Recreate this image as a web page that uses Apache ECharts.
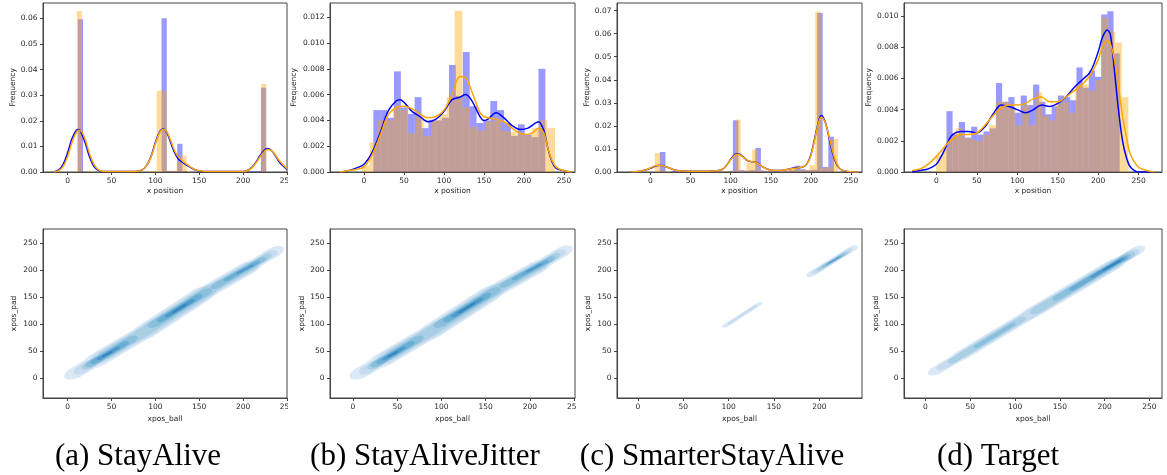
<!DOCTYPE html>
<html><head><meta charset="utf-8">
<script src="https://cdn.jsdelivr.net/npm/echarts@6/dist/echarts.min.js"></script>
<style>html,body{margin:0;padding:0;background:#fff}#c{width:1167px;height:475px}</style>
</head><body><div id="c"></div>
<script>
// ---------- tick labels ----------
const xTicks = [0, 50, 100, 150, 200, 250];
const padTicks = [0, 50, 100, 150, 200, 250];
const yTicksA = [0, 0.01, 0.02, 0.03, 0.04, 0.05, 0.06];
const yTicksB = [0, 0.002, 0.004, 0.006, 0.008, 0.010, 0.012];
const yTicksC = [0, 0.01, 0.02, 0.03, 0.04, 0.05, 0.06, 0.07];
const yTicksD = [0, 0.002, 0.004, 0.006, 0.008, 0.010];
const captions = ['(a) StayAlive', '(b) StayAliveJitter', '(c) SmarterStayAlive', '(d) Target'];

// ---------- histograms: [first bin edge, bin width] + heights ----------
const aBlueBins = [11.7, 5.96];
const aBlueHeights = [0.0597,0,0,0,0,0,0,0,0,0,0,0,0,0,0,0,0.0600,0.0004,0.0004,0.0110,0.0004,0,0,0.0003,0.0003,0.0003,0.0003,0.0003,0.0003,0.0003,0.0003,0.0003,0.0003,0.0003,0.0003,0.0329];
const aOrangeBins = [10.6, 5.68];
const aOrangeHeights = [0.0629,0,0.0005,0,0,0,0,0,0,0,0,0,0,0,0.0004,0.0004,0.0317,0.0317,0.0005,0.0005,0.0040,0.0064,0.0005,0,0,0,0,0,0,0,0,0,0,0,0,0,0,0.0344];

const bBlueBins = [11.7, 8.6];
const bBlueHeights = [0.0048,0.0048,0.0042,0.0078,0.0050,0.0045,0.0058,0.0034,0.0040,0.0040,0.0042,0.0083,0.0059,0.0093,0.0051,0.0038,0.0040,0.0055,0.0048,0.0038,0.0028,0.0037,0.0029,0.0027,0.0080];
const bOrangeBins = [-2.7, 9.66];
const bOrangeHeights = [0.0005,0.0023,0.0040,0.0040,0.0050,0.0048,0.0030,0.0044,0.0028,0.0040,0.0045,0.0058,0.0125,0.0050,0.0035,0.0032,0.0039,0.0040,0.0032,0.0031,0.0029,0.0028,0.0034,0.0040,0.0034];

const cBlueBins = [11.7, 7.0];
const cBlueHeights = [0.0087,0,0.0003,0,0.0002,0.0002,0.0002,0.0002,0.0002,0.0002,0.0002,0.0002,0.0004,0.0224,0.0008,0.0006,0.0008,0.0104,0.0006,0.0004,0.0003,0.0003,0.0004,0.0008,0.0027,0.0012,0.0008,0.0010,0.0690,0.0022,0.0153];
const cOrangeBins = [5.4, 7.14];
const cOrangeHeights = [0.0082,0.0006,0.0002,0,0.0002,0.0002,0.0002,0.0002,0.0002,0.0002,0.0002,0.0002,0.0003,0.0006,0.0227,0.0006,0.0040,0.0097,0.0008,0.0004,0.0003,0.0003,0.0004,0.0012,0.0018,0.0008,0.0008,0.0030,0.0695,0.0018,0.0022,0.0143];

const dBlueBins = [12.4, 7.65];
const dBlueHeights = [0.0039,0.0024,0.0032,0.0022,0.0029,0.0024,0.0026,0.0028,0.0057,0.0045,0.0048,0.0038,0.0049,0.0043,0.0056,0.0045,0.0037,0.0042,0.0049,0.0048,0.0046,0.0067,0.0054,0.0065,0.0061,0.0101,0.0103,0.0076];
const dOrangeBins = [-0.5, 8.2];
const dOrangeHeights = [0.0011,0.0016,0.0022,0.0028,0.0022,0.0021,0.0020,0.0024,0.0030,0.0045,0.0045,0.0041,0.0030,0.0043,0.0030,0.0051,0.0036,0.0033,0.0044,0.0045,0.0038,0.0056,0.0056,0.0052,0.0059,0.0099,0.0090,0.0083,0.0048];

// ---------- KDE curves ----------
const aKdeX = [-16,-10,-5,0,5,10,13,16,20,25,30,35,40,50,60,70,80,85,90,95,100,105,109,113,118,122,126,130,135,140,145,150,160,180,200,205,210,215,220,225,228,232,236,240,245,250];
const aKdeBlue = [0,0.0008,0.003,0.0075,0.013,0.0163,0.0166,0.015,0.0115,0.006,0.0022,0.0006,0.0002,0.0002,0.0002,0.0002,0.0003,0.0008,0.0025,0.006,0.0115,0.0158,0.0168,0.0155,0.011,0.0075,0.0052,0.004,0.0028,0.0018,0.0009,0.0004,0.0002,0.0002,0.0002,0.0006,0.0018,0.004,0.0068,0.0088,0.0092,0.0085,0.0068,0.0045,0.0025,0.001];
const aKdeOrange = [0,0.0005,0.0022,0.006,0.0115,0.0155,0.0163,0.0158,0.0128,0.0072,0.003,0.0009,0.0003,0.0002,0.0002,0.0002,0.0003,0.0008,0.0025,0.0058,0.011,0.0155,0.0166,0.0158,0.0118,0.0082,0.006,0.0046,0.0032,0.002,0.001,0.0005,0.0002,0.0002,0.0002,0.0005,0.0016,0.0037,0.0063,0.0083,0.0088,0.0084,0.007,0.005,0.003,0.0013];

const bKdeX = [-30,-20,-10,0,10,20,30,40,45,50,60,70,80,90,100,110,120,127,135,145,150,155,165,175,185,195,205,212,218,225,230,235,240,250,260];
const bKdeBlue = [0,0.0001,0.0003,0.0006,0.0015,0.0030,0.0047,0.0055,0.0056,0.0054,0.0047,0.0043,0.0039,0.0041,0.0047,0.0056,0.0058,0.0060,0.0055,0.0043,0.0040,0.0041,0.0046,0.0042,0.0036,0.0033,0.0034,0.0037,0.0039,0.0032,0.0018,0.0008,0.0003,0.0001,0];
const bKdeOrange = [0,0.0001,0.0002,0.0004,0.0013,0.0028,0.0044,0.0050,0.0051,0.0051,0.0049,0.0045,0.0042,0.0043,0.0048,0.0060,0.0074,0.0073,0.0062,0.0046,0.0043,0.0042,0.0041,0.0039,0.0034,0.0030,0.0029,0.0031,0.0034,0.0030,0.0018,0.0009,0.0004,0.0001,0];

const cKdeX = [-25,-15,-5,0,5,12,20,30,40,60,80,90,95,100,105,109,115,120,125,130,135,140,150,160,170,180,190,195,200,205,210,213,217,220,225,230,235,240,250,260];
const cKdeBlue = [0,0.0002,0.001,0.0016,0.0024,0.0029,0.0022,0.0009,0.0004,0.0003,0.0004,0.0012,0.003,0.0055,0.0075,0.0079,0.0068,0.0052,0.0045,0.0043,0.0036,0.0022,0.0008,0.0006,0.0011,0.0018,0.0022,0.0035,0.0075,0.015,0.0225,0.0245,0.0225,0.019,0.011,0.005,0.0018,0.0006,0.0001,0];
const cKdeOrange = [0,0.0002,0.0011,0.0018,0.0026,0.0029,0.0022,0.0009,0.0004,0.0003,0.0004,0.0012,0.003,0.0053,0.0072,0.0077,0.0067,0.0053,0.0046,0.0042,0.0035,0.0022,0.0008,0.0006,0.0011,0.0016,0.0022,0.0035,0.0072,0.0145,0.022,0.0238,0.0222,0.019,0.012,0.0055,0.002,0.0007,0.0001,0];

const dKdeX = [-30,-20,-10,0,5,10,15,20,30,40,50,60,70,80,90,100,110,120,130,140,150,160,170,180,190,200,205,211,215,220,225,230,235,240,250,260,270];
const dKdeBlue = [0,0.0001,0.0002,0.0005,0.0009,0.0014,0.002,0.0024,0.0026,0.0026,0.0025,0.0029,0.0037,0.0043,0.0042,0.004,0.0038,0.004,0.0043,0.0042,0.0044,0.0048,0.0054,0.0059,0.0064,0.0077,0.0086,0.0091,0.0088,0.0065,0.0040,0.0020,0.0009,0.0003,0,0,0];
const dKdeOrange = [0.0001,0.0002,0.0005,0.001,0.0013,0.0016,0.0019,0.0021,0.0024,0.0024,0.0025,0.003,0.0036,0.0041,0.0043,0.0043,0.0044,0.0047,0.0048,0.0045,0.0045,0.0048,0.0052,0.0056,0.0062,0.0072,0.008,0.0084,0.0082,0.0072,0.0055,0.0036,0.0022,0.0011,0.0003,0.0001,0];

// ---------- 2D density contour bands: [x0, y0, x1, y1, half-width, level] ----------
const aContours = [
  [10,11,35,35,9.5,1],[35,35,90,88,12,1],[90,88,150,152,13,1],[150,152,205,204,11,1],[205,204,234,233,8.5,1],
  [17,17,40,40,7,2],[40,40,88,86,9.5,2],[88,86,155,157,10.5,2],[155,157,205,204,8.5,2],[205,204,230,229,6,2],
  [24,24,45,45,5.5,3],[45,45,85,84,7.5,3],[85,84,160,162,8,3],[160,162,210,209,6.5,3],[210,209,226,225,4.5,3],
  [28,28,72,71,5.5,4],[100,102,156,158,6,4],[170,172,220,219,4.5,4],
  [32,32,64,63,4,5],[108,110,148,150,4.2,5],[182,184,215,214,3,5],
  [37,37,56,55,2.6,6],[115,117,141,143,2.8,6],[195,196,210,209,1.6,6],
  [41,41,49,48,1.4,7],[121,123,134,136,1.5,7]
];
const bContours = [
  [10,11,35,35,9.5,1],[35,35,90,88,12,1],[90,88,152,154,13,1],[152,154,207,205,11,1],[207,205,236,234,8.5,1],
  [17,17,40,40,7,2],[40,40,88,86,9.5,2],[88,86,157,159,10.5,2],[157,159,207,205,8.5,2],[207,205,232,230,6,2],
  [24,24,45,45,5.5,3],[45,45,85,84,7.5,3],[85,84,162,164,8,3],[162,164,212,210,6.5,3],[212,210,228,226,4.5,3],
  [28,28,72,71,5.5,4],[100,102,158,160,6,4],[172,174,222,220,4.5,4],
  [32,32,64,63,4,5],[108,110,150,152,4.2,5],[184,186,217,215,3,5],
  [37,37,56,55,2.6,6],[115,117,143,145,2.8,6],[197,198,212,211,1.6,6],
  [41,41,49,48,1.4,7],[121,123,136,138,1.5,7]
];
const cContours = [
  [97,98,133,137,3,1],[192,194,236,240,4.5,1],
  [101,102,129,133,1.6,2],[196,198,232,236,3.4,2],
  [201,203,229,232,2.5,3],
  [205,208,226,229,1.8,4],
  [209,212,223,226,1.2,5],
  [212,215,220,223,0.8,6]
];
const dContours = [
  [13,15,40,42,7,1],[40,42,120,122,8.5,1],[120,122,210,211,9.5,1],[210,211,235,236,7,1],
  [20,22,45,47,5,2],[45,47,115,117,6.5,2],[115,117,210,211,7.5,2],[210,211,231,232,5.5,2],
  [32,34,105,107,4.8,3],[125,127,226,227,5.8,3],
  [58,60,96,98,3,4],[148,150,223,224,4.4,4],
  [165,167,221,222,3.3,5],
  [188,190,219,220,2.4,6],
  [200,202,216,217,1.5,7]
];
const levelColors = ['#dbe9f6','#c6dbef','#a9cfe5','#8bc0dd','#6aaed6','#4e9acb','#3484bf','#1f6fb0'];

// ---------- layout ----------
const grids = [
  {left:43, top:3, width:244, height:169},
  {left:330, top:3, width:245, height:169},
  {left:617, top:3, width:245, height:169},
  {left:904, top:3, width:258, height:169},
  {left:43, top:229, width:244, height:169},
  {left:330, top:229, width:245, height:169},
  {left:617, top:229, width:245, height:169},
  {left:904, top:229, width:258, height:169}
];
const TXT = '#262626', AX = '#444';
const font = {fontFamily:'DejaVu Sans', fontSize:7.5, color:TXT};
const CAP = 1.8; // length of the tapered end caps, relative to half-width

function xAxis(i, min, max, name, gap) {
  return {gridIndex:i, type:'value', min:min, max:max, name:name, nameLocation:'middle', nameGap:gap,
    nameTextStyle:font,
    axisLine:{show:true, onZero:false, lineStyle:{color:AX, width:1}},
    axisTick:{show:true, inside:false, length:3, lineStyle:{color:AX}, customValues:xTicks},
    axisLabel:Object.assign({show:true, margin:5, customValues:xTicks, hideOverlap:false}, font),
    splitLine:{show:false}};
}
function yAxis(i, min, max, ticks, dec, name, gap) {
  return {gridIndex:i, type:'value', min:min, max:max, name:name, nameLocation:'middle', nameGap:gap,
    nameTextStyle:font,
    axisLine:{show:true, onZero:false, lineStyle:{color:AX, width:1}},
    axisTick:{show:true, inside:false, length:3, lineStyle:{color:AX}, customValues:ticks},
    axisLabel:Object.assign({show:true, margin:5.5, customValues:ticks, hideOverlap:false,
      formatter:function(v){return Number(v).toFixed(dec);}}, font),
    splitLine:{show:false}};
}

function histData(bins, heights) {
  return heights.map(function(h, i){ return [bins[0] + i*bins[1], bins[0] + (i+1)*bins[1], h]; });
}
function histSeries(i, bins, heights, color) {
  return {type:'custom', xAxisIndex:i, yAxisIndex:i, clip:true, z:2, silent:true,
    encode:{x:[0,1], y:2}, data:histData(bins, heights),
    renderItem:function(params, api){
      const p0 = api.coord([api.value(0), api.value(2)]);
      const p1 = api.coord([api.value(1), 0]);
      return {type:'rect', shape:{x:p0[0], y:p0[1], width:p1[0]-p0[0], height:p1[1]-p0[1]}, style:{fill:color}};
    }};
}
function kdeSeries(i, xs, ys, color) {
  return {type:'line', xAxisIndex:i, yAxisIndex:i, z:4, silent:true, showSymbol:false, smooth:0.35,
    lineStyle:{color:color, width:1.5}, data:xs.map(function(x, k){return [x, ys[k]];})};
}
function contourSeries(i, bands) {
  const sorted = bands.slice().sort(function(p, q){return p[5]-q[5];});
  return {type:'custom', xAxisIndex:i, yAxisIndex:i, clip:true, z:2, silent:true,
    encode:{x:[0,2], y:[1,3]}, data:sorted,
    renderItem:function(params, api){
      const x0=api.value(0), y0=api.value(1), x1=api.value(2), y1=api.value(3), w=api.value(4), lv=api.value(5);
      const dx=x1-x0, dy=y1-y0, L=Math.hypot(dx,dy) || 1;
      const ux=dx/L, uy=dy/L, nx=-uy, ny=ux, cl=CAP*w;
      const pts=[];
      const N=24;
      for (let k=0;k<=N;k++){ // tapered cap beyond the end point
        const f=-Math.PI/2 + Math.PI*k/N, c=Math.cos(f), s=Math.sin(f);
        pts.push(api.coord([x1 + cl*c*ux + w*s*nx, y1 + cl*c*uy + w*s*ny]));
      }
      for (let k=0;k<=N;k++){ // tapered cap before the start point
        const f=Math.PI/2 + Math.PI*k/N, c=Math.cos(f), s=Math.sin(f);
        pts.push(api.coord([x0 + cl*c*ux + w*s*nx, y0 + cl*c*uy + w*s*ny]));
      }
      return {type:'polygon', shape:{points:pts}, style:{fill:levelColors[lv-1]}};
    }};
}

const BLUE_FILL = 'rgba(0,0,255,0.4)', ORANGE_FILL = 'rgba(255,165,0,0.4)';
const BLUE = '#0000ff', ORANGE = '#ffa500';

const option = {
  animation:false,
  grid: grids.map(function(g){return Object.assign({show:true, borderColor:AX, borderWidth:1, backgroundColor:'transparent', containLabel:false}, g);}),
  xAxis:[
    xAxis(0,-28,250,'x position',15), xAxis(1,-42.5,263.75,'x position',15),
    xAxis(2,-41.7,263.7,'x position',15), xAxis(3,-40,278.8,'x position',15),
    xAxis(4,-28,250,'xpos_ball',17), xAxis(5,-26,251,'xpos_ball',17),
    xAxis(6,-23,247,'xpos_ball',17), xAxis(7,-24,264,'xpos_ball',17)
  ],
  yAxis:[
    yAxis(0,0,0.066,yTicksA,2,'Frequency',26), yAxis(1,0,0.0131,yTicksB,3,'Frequency',31.5),
    yAxis(2,0,0.0733,yTicksC,2,'Frequency',26), yAxis(3,0,0.01083,yTicksD,3,'Frequency',31),
    yAxis(4,-37,277,padTicks,0,'xpos_pad',25), yAxis(5,-37,277,padTicks,0,'xpos_pad',23),
    yAxis(6,-37,277,padTicks,0,'xpos_pad',24.5), yAxis(7,-37,277,padTicks,0,'xpos_pad',23)
  ],
  series:[
    histSeries(0,aBlueBins,aBlueHeights,BLUE_FILL), histSeries(0,aOrangeBins,aOrangeHeights,ORANGE_FILL),
    kdeSeries(0,aKdeX,aKdeBlue,BLUE), kdeSeries(0,aKdeX,aKdeOrange,ORANGE),
    histSeries(1,bBlueBins,bBlueHeights,BLUE_FILL), histSeries(1,bOrangeBins,bOrangeHeights,ORANGE_FILL),
    kdeSeries(1,bKdeX,bKdeBlue,BLUE), kdeSeries(1,bKdeX,bKdeOrange,ORANGE),
    histSeries(2,cBlueBins,cBlueHeights,BLUE_FILL), histSeries(2,cOrangeBins,cOrangeHeights,ORANGE_FILL),
    kdeSeries(2,cKdeX,cKdeBlue,BLUE), kdeSeries(2,cKdeX,cKdeOrange,ORANGE),
    histSeries(3,dBlueBins,dBlueHeights,BLUE_FILL), histSeries(3,dOrangeBins,dOrangeHeights,ORANGE_FILL),
    kdeSeries(3,dKdeX,dKdeBlue,BLUE), kdeSeries(3,dKdeX,dKdeOrange,ORANGE),
    contourSeries(4,aContours), contourSeries(5,bContours), contourSeries(6,cContours), contourSeries(7,dContours)
  ],
  graphic:[
    {type:'rect', z:100, shape:{x:288, y:174, width:9, height:14}, style:{fill:'#fff'}},
    {type:'rect', z:100, shape:{x:288, y:400, width:9, height:13}, style:{fill:'#fff'}},
    {type:'rect', z:100, shape:{x:576, y:400, width:9, height:13}, style:{fill:'#fff'}},
    {type:'text', z:100, x:138, y:457, style:{text:captions[0], fill:'#000', fontSize:31, fontFamily:'Liberation Serif', align:'center', verticalAlign:'middle'}},
    {type:'text', z:100, x:425, y:457, style:{text:captions[1], fill:'#000', fontSize:31, fontFamily:'Liberation Serif', align:'center', verticalAlign:'middle'}},
    {type:'text', z:100, x:712, y:457, style:{text:captions[2], fill:'#000', fontSize:31, fontFamily:'Liberation Serif', align:'center', verticalAlign:'middle'}},
    {type:'text', z:100, x:998, y:457, style:{text:captions[3], fill:'#000', fontSize:31, fontFamily:'Liberation Serif', align:'center', verticalAlign:'middle'}}
  ]
};
const chart = echarts.init(document.getElementById('c'), null, {renderer:'canvas'});
chart.setOption(option);
</script>
</body></html>
